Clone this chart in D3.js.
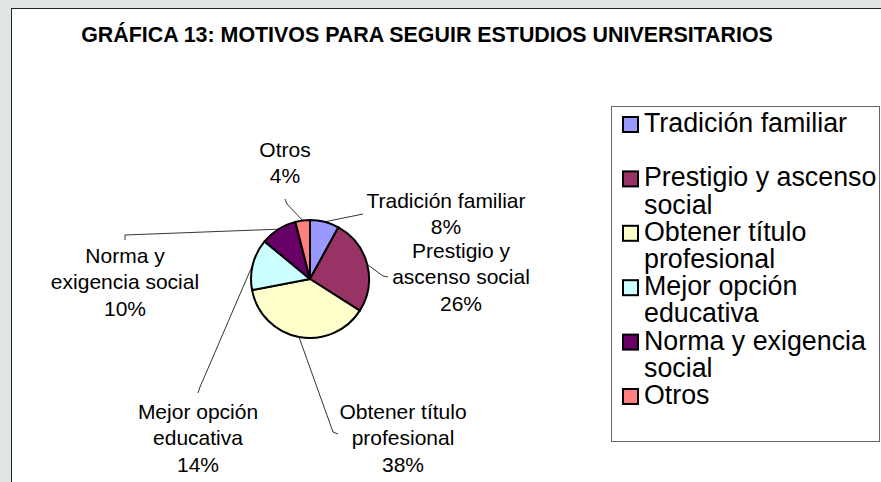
<!DOCTYPE html>
<html>
<head>
<meta charset="utf-8">
<script src="https://cdn.jsdelivr.net/npm/d3@7"></script>
<style>
  body { margin: 0; background: #e2e6e2; }
  svg { display: block; }
</style>
</head>
<body>
<div id="chart"></div>
<script>
  /* ---------- Data ---------- */
  const categories = [
    'Tradición familiar',
    'Prestigio y ascenso social',
    'Obtener título profesional',
    'Mejor opción educativa',
    'Norma y exigencia social',
    'Otros'
  ];
  const values = [8, 26, 38, 14, 10, 4];

  // how the words wrap (legend and data labels)
  const legendLines = [
    ['Tradición familiar', ''],
    ['Prestigio y ascenso', 'social'],
    ['Obtener título', 'profesional'],
    ['Mejor opción', 'educativa'],
    ['Norma y exigencia', 'social'],
    ['Otros']
  ];
  const labelLines = [
    ['Tradición familiar'],
    ['Prestigio y', 'ascenso social'],
    ['Obtener título', 'profesional'],
    ['Mejor opción', 'educativa'],
    ['Norma y', 'exigencia social'],
    ['Otros']
  ];

  /* ---------- Layout ---------- */
  const W = 881, H = 482;
  const palette = ['#9999ff', '#993366', '#ffffcc', '#ccffff', '#660066', '#ff8080'];
  const font = "'Liberation Sans', Arial, sans-serif";
  const cx = 310, cy = 279, R = 59;

  // label anchor [centre x, first baseline] and leader bend/end points
  const labelPos = [[446, 207.5], [461, 258], [403, 419], [198, 419], [125, 263], [285, 157]];
  const leaderEnds = [
    [[363, 214]],
    [[383, 276], [388, 277]],
    [[333, 432], [338, 434]],
    [[200, 387], [198, 393]],
    [[125, 235], [125, 240]],
    [[287, 204], [285, 199]]
  ];

  const color = d3.scaleOrdinal().domain(categories).range(palette);

  const svg = d3.select('#chart').append('svg')
    .attr('width', W).attr('height', H);

  // chart frame (white area, runs off right/bottom)
  svg.append('rect')
    .attr('x', 11.5).attr('y', 8.5)
    .attr('width', W + 10).attr('height', H + 10)
    .attr('fill', '#fff')
    .attr('stroke', '#222')
    .attr('stroke-width', 1);

  // title
  svg.append('text')
    .attr('x', 427).attr('y', 42)
    .attr('text-anchor', 'middle')
    .attr('font-family', font)
    .attr('font-weight', 700)
    .attr('font-size', '21.4px')
    .attr('fill', '#000')
    .text('GRÁFICA 13: MOTIVOS PARA SEGUIR ESTUDIOS UNIVERSITARIOS');

  /* ---------- Pie ---------- */
  const pie = d3.pie().sort(null).value(d => d.value);
  const arcs = pie(categories.map((c, i) => ({ name: c, value: values[i] })));
  const arc = d3.arc().innerRadius(0).outerRadius(R);

  const g = svg.append('g').attr('transform', `translate(${cx},${cy})`);

  g.selectAll('path.slice')
    .data(arcs)
    .join('path')
    .attr('class', 'slice')
    .attr('d', arc)
    .attr('fill', d => color(d.data.name))
    .attr('stroke', '#000')
    .attr('stroke-width', 2)
    .attr('stroke-linejoin', 'round');

  // leader lines: from the middle of the slice edge to the label
  const line = d3.line();
  svg.append('g').selectAll('path')
    .data(arcs)
    .join('path')
    .attr('d', (d, i) => {
      const a = (d.startAngle + d.endAngle) / 2;
      const p0 = [cx + R * Math.sin(a), cy - R * Math.cos(a)];
      return line([p0, ...leaderEnds[i]]);
    })
    .attr('fill', 'none')
    .attr('stroke', '#000')
    .attr('stroke-width', 0.8);

  // data labels
  const lab = svg.append('g')
    .attr('font-family', font)
    .attr('font-size', '21px')
    .attr('fill', '#000')
    .attr('text-anchor', 'middle');

  arcs.forEach((d, i) => {
    const lines = labelLines[i].concat([d.data.value + '%']);
    const t = lab.append('text')
      .attr('x', labelPos[i][0]).attr('y', labelPos[i][1]);
    lines.forEach((s, k) => {
      t.append('tspan')
        .attr('x', labelPos[i][0])
        .attr('y', labelPos[i][1] + k * 26.3)
        .text(s);
    });
  });

  /* ---------- Legend ---------- */
  const lg = svg.append('g');
  lg.append('rect')
    .attr('x', 611.5).attr('y', 106.5)
    .attr('width', 268).attr('height', 335)
    .attr('fill', '#fff')
    .attr('stroke', '#666')
    .attr('stroke-width', 1);

  const rowH = 27.2;
  let row = 0;
  categories.forEach((c, i) => {
    const base = 132 + row * rowH;
    lg.append('rect')
      .attr('x', 623).attr('y', base - 15)
      .attr('width', 15).attr('height', 15)
      .attr('fill', color(c))
      .attr('stroke', '#000')
      .attr('stroke-width', 2);
    const t = lg.append('text')
      .attr('font-family', font)
      .attr('font-size', '26.8px')
      .attr('fill', '#000');
    legendLines[i].forEach((s, k) => {
      t.append('tspan')
        .attr('x', 644)
        .attr('y', base + k * rowH)
        .text(s);
    });
    row += 2;
  });
</script>
</body>
</html>
